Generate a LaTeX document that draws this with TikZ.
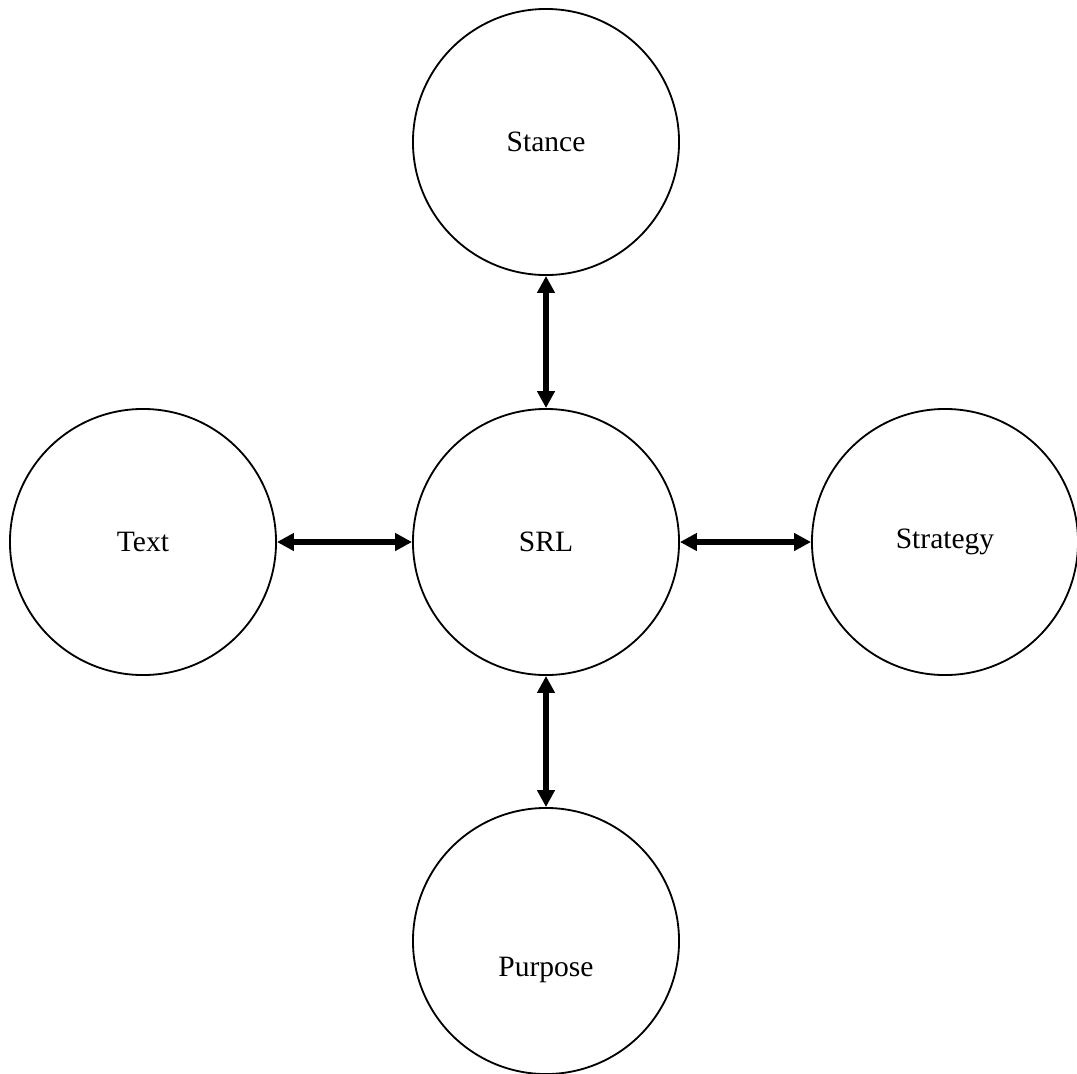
\documentclass[tikz,border=0pt]{standalone}
\usepackage{fontspec}
\setmainfont{Liberation Serif}
\usetikzlibrary{arrows.meta}
\begin{document}
\begin{tikzpicture}[x=0.025cm,y=-0.025cm]
        \tikzset{
            blob/.style={circle,draw=black,line width=1.3pt,minimum size=6.65cm,inner sep=0pt,font=\fontsize{21}{25}\selectfont},
            link/.style={{Triangle[length=12pt,width=12pt]}-{Triangle[length=12pt,width=12pt]},line width=3.9pt}
        }
        \useasboundingbox (0,0) rectangle (1077,1073);

        \node[blob] (srl) at (546,542) {SRL};
        \node[blob] (stance) at (546,142) {Stance};
        \node[blob] (text) at (143,542) {Text};
        \node[blob] (strategy) at (945,542) {Strategy};
        \node[blob] (purpose) at (546,941) {};
        \node[font=\fontsize{21}{25}\selectfont] (purposelbl) at (546,970) {Purpose};

        \foreach \n in {stance,text,strategy,purpose}{
                \draw[link] (srl) -- (\n);
            }

    \end{tikzpicture}
\end{document}
